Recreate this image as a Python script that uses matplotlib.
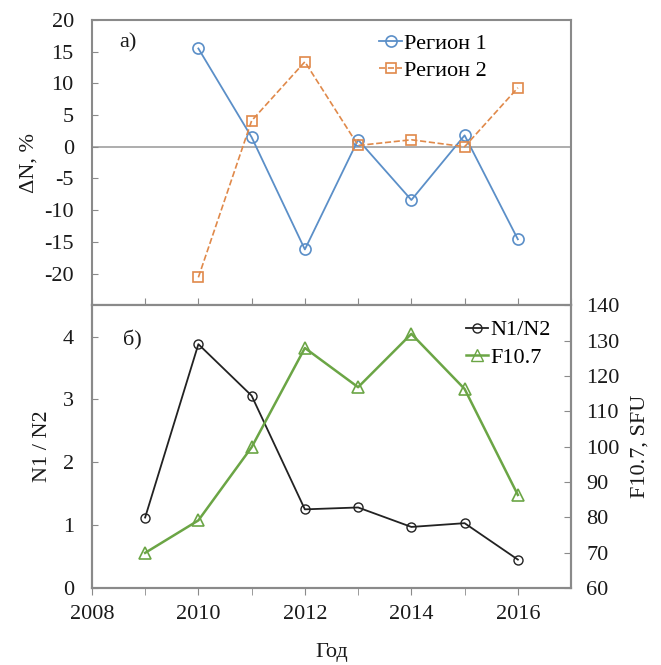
import numpy as np
import matplotlib.pyplot as plt

plt.rcParams['font.family'] = ['Liberation Serif', 'DejaVu Serif']
plt.rcParams['font.size'] = 16
plt.rcParams['axes.unicode_minus'] = False

years = [2010, 2011, 2012, 2013, 2014, 2015, 2016]
region1 = [15.5, 1.5, -16.2, 1.1, -8.4, 1.8, -14.6]
region2 = [-20.6, 4.1, 13.4, 0.2, 1.1, 0.0, 9.3]

years_b = [2009, 2010, 2011, 2012, 2013, 2014, 2015, 2016]
ratio = [1.12, 3.88, 3.06, 1.25, 1.28, 0.97, 1.03, 0.45]
f107 = [69.9, 79.1, 99.8, 127.9, 116.8, 131.9, 116.3, 86.3]

blue = '#5B8FC8'
orange = '#E0894A'
green = '#6BA545'
spine_col = '#8a8a8a'
txt_col = '#1a1a1a'

fig = plt.figure(figsize=(6.61, 6.65), dpi=100)
ax1 = fig.add_axes([0.139, 0.541, 0.725, 0.429])
ax2 = fig.add_axes([0.139, 0.116, 0.725, 0.425])

# panel a
ax1.axhline(0, color='#a0a0a0', lw=1.2, zorder=1)
ax1.plot(years, region1, '-o', color=blue, lw=1.3, ms=8, mfc='none', mew=1.2, label='Регион 1')
ax1.plot(years, region2, '--s', color=orange, lw=1.2, ms=7, mfc='none', mew=1.2, label='Регион 2')
ax1.set_xlim(2008, 2017)
ax1.set_ylim(-25, 20)
ax1.set_yticks(np.arange(-20, 21, 5))
ax1.set_xticks(np.arange(2008, 2018, 1))
ax1.tick_params(axis='x', direction='in', length=5, labelbottom=False, color=spine_col)
ax1.tick_params(axis='y', direction='in', length=4, pad=13, color=spine_col, labelcolor=txt_col)
ax1.set_ylabel('ΔN, %', labelpad=4, color=txt_col)
ax1.text(0.058, 0.92, 'а)', transform=ax1.transAxes, va='center', color=txt_col)
ax1.legend(loc='upper left', frameon=False, handlelength=1.0, handletextpad=0.1,
           borderaxespad=0, borderpad=0, labelspacing=0.28,
           bbox_to_anchor=(0.6, 0.953))

# panel b
ax2.plot(years_b, ratio, '-o', color='#222222', lw=1.3, ms=6.5, mfc='none', mew=1.0)
ax2.set_xlim(2008, 2017)
ax2.set_ylim(0, 4.5)
ax2.set_yticks([0, 1, 2, 3, 4])
ax2.set_xticks(np.arange(2009, 2017, 1), minor=True)
ax2.set_xticks([2008, 2010, 2012, 2014, 2016])
ax2.tick_params(axis='x', which='both', direction='out', length=5, color=spine_col, pad=7,
                labelcolor=txt_col)
ax2.tick_params(axis='y', direction='in', length=4, pad=13, color=spine_col, labelcolor=txt_col)
ax2.set_ylabel('N1 / N2', labelpad=8, color=txt_col)
ax2.set_xlabel('Год', labelpad=14, color=txt_col)
ax2.text(0.065, 0.876, 'б)', transform=ax2.transAxes, va='center', color=txt_col)

ax3 = ax2.twinx()
ax3.plot(years_b, f107, '-^', color=green, lw=1.8, ms=9, mfc='none', mew=1.2)
ax3.set_ylim(60, 140)
ax3.set_yticks(np.arange(60, 141, 10))
ax3.tick_params(axis='y', direction='in', length=5, color=spine_col, pad=11, labelcolor=txt_col)
ax3.set_ylabel('F10.7, SFU', labelpad=8, color=txt_col)

h1 = plt.Line2D([], [], color='#222222', marker='o', ms=6.5, mfc='none', lw=1.3)
h2 = plt.Line2D([], [], color=green, marker='^', ms=9, mfc='none', lw=1.8)
ax3.legend([h1, h2], ['N1/N2', 'F10.7'], loc='upper left', frameon=False,
           handlelength=1.0, handletextpad=0.1, borderaxespad=0, borderpad=0,
           labelspacing=0.3, bbox_to_anchor=(0.78, 0.948))

for ax in (ax1, ax2, ax3):
    for sp in ax.spines.values():
        sp.set_color(spine_col)
        sp.set_linewidth(1.5)

fig.savefig('out.png', dpi=100)
